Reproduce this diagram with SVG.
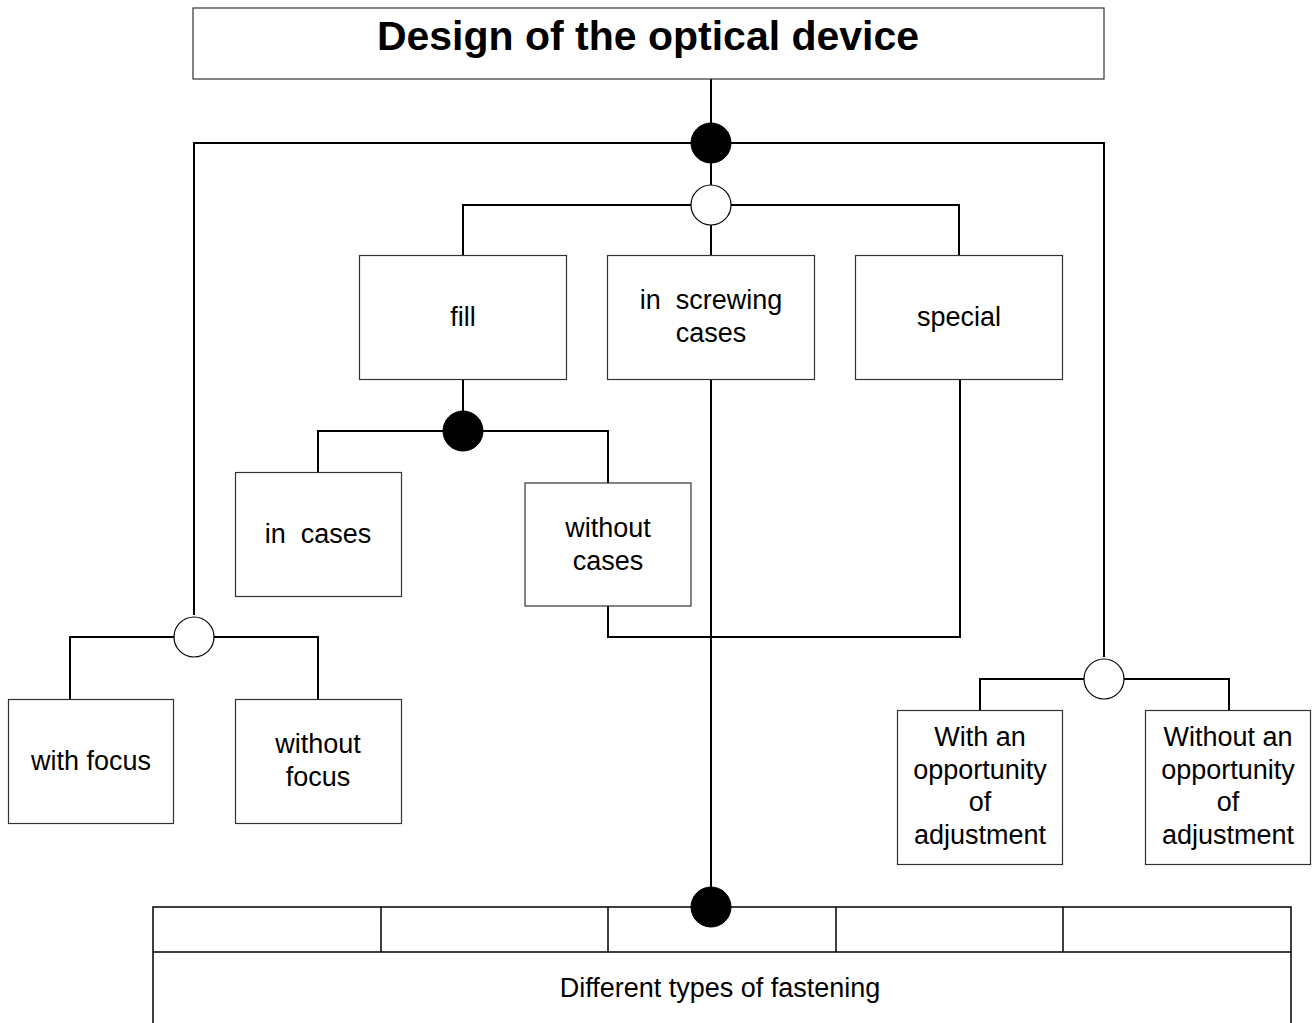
<svg xmlns="http://www.w3.org/2000/svg" width="1315" height="1023" viewBox="0 0 1315 1023">
<style>
.box{fill:#fff;stroke:#333;stroke-width:1.2}
.ln{fill:none;stroke:#000;stroke-width:2}
.on{fill:#000;stroke:#000;stroke-width:1}
.off{fill:#fff;stroke:#000;stroke-width:1.2}
text{font-family:"Liberation Sans",Arial,sans-serif;font-size:27px;fill:#000;text-anchor:middle;white-space:pre}
.title{font-size:41px;font-weight:bold}
</style>
<rect width="1315" height="1023" fill="#fff"/>
<g id="connectors">
<path class="ln" d="M711 79V143M194 615V143H1104V657M711 143V887"/>
<path class="ln" d="M463 255V205H959V255M711 205V255"/>
<path class="ln" d="M463 379V431M318 472V431H608V483"/>
<path class="ln" d="M608 606V637H960V379"/>
<path class="ln" d="M70 699V637H318V699"/>
<path class="ln" d="M980 710V679H1229V710"/>
</g>
<g id="title"><rect class="box" x="193" y="8" width="911" height="71"/><text class="title" x="648" y="50">Design of the optical device</text></g>
<g id="n-fill"><rect class="box" x="359.5" y="255.5" width="207" height="124"/><text x="463" y="326">fill</text></g>
<g id="n-screw"><rect class="box" x="607.5" y="255.5" width="207" height="124"/><text x="711" y="309">in  screwing</text><text x="711" y="342">cases</text></g>
<g id="n-special"><rect class="box" x="855.5" y="255.5" width="207" height="124"/><text x="959" y="326">special</text></g>
<g id="n-incases"><rect class="box" x="235.5" y="472.5" width="166" height="124"/><text x="318" y="543">in  cases</text></g>
<g id="n-withoutcases"><rect class="box" x="525" y="483" width="166" height="123"/><text x="608" y="537">without</text><text x="608" y="570">cases</text></g>
<g id="n-withfocus"><rect class="box" x="8.5" y="699.5" width="165" height="124"/><text x="91" y="770">with focus</text></g>
<g id="n-withoutfocus"><rect class="box" x="235.5" y="699.5" width="166" height="124"/><text x="318" y="753">without</text><text x="318" y="786">focus</text></g>
<g id="n-withadj"><rect class="box" x="897.5" y="710.5" width="165" height="154"/><text x="980" y="746">With an</text><text x="980" y="779">opportunity</text><text x="980" y="811">of</text><text x="980" y="844">adjustment</text></g>
<g id="n-withoutadj"><rect class="box" x="1145.5" y="710.5" width="165" height="154"/><text x="1228" y="746">Without an</text><text x="1228" y="779">opportunity</text><text x="1228" y="811">of</text><text x="1228" y="844">adjustment</text></g>
<g id="fastening">
<path class="ln" style="stroke-width:1.5" d="M153 1023V907H1291V1023M153 952H1291M381 907V952M608 907V952M836 907V952M1063 907V952"/>
<text x="720" y="997">Different types of fastening</text>
</g>
<g id="junctions">
<circle class="on" cx="711" cy="143" r="20"/>
<circle class="off" cx="711" cy="205" r="20"/>
<circle class="on" cx="463" cy="431" r="20"/>
<circle class="off" cx="194" cy="637" r="20"/>
<circle class="off" cx="1104" cy="679" r="20"/>
<circle class="on" cx="711" cy="907" r="20"/>
</g>
</svg>
